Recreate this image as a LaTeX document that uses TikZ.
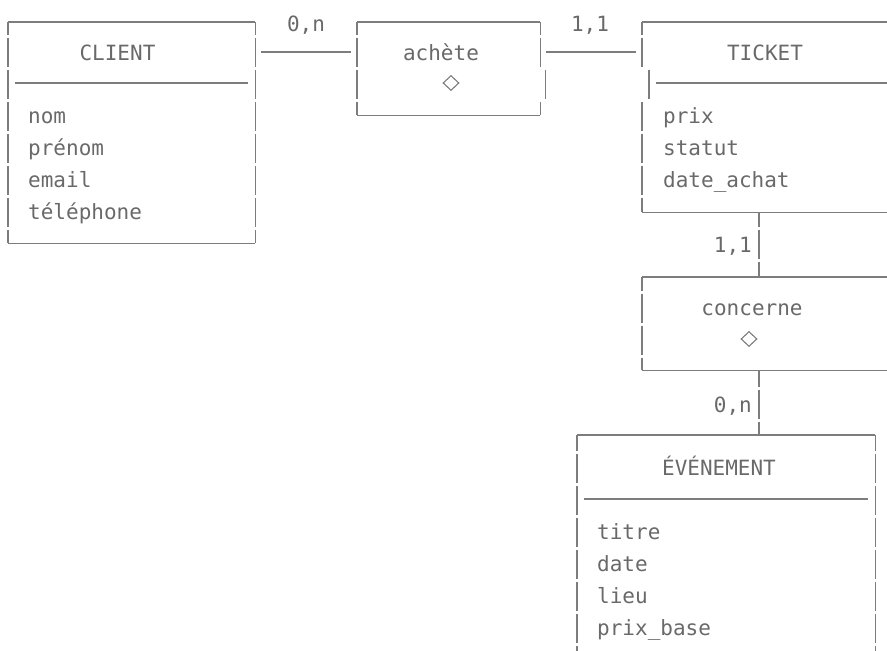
\documentclass[tikz,border=0pt]{standalone}
\usepackage{fontspec}
\newfontfamily\erfont{DejaVu Sans Mono}
\usetikzlibrary{shapes.geometric}
\definecolor{linegray}{RGB}{125,125,125}
\definecolor{textgray}{RGB}{105,105,105}
\begin{document}
\begin{tikzpicture}[x=1pt,y=-1pt]
	\tikzset{
		box/.style={rectangle, inner sep=0pt, anchor=north west},
		edge/.style={draw=linegray, line width=1.2pt},
		vbar/.style={edge, dash pattern=on 29.5pt off 2.5pt, dash phase=#1},
		vbar/.default=16.5pt,
		txt/.style={font=\erfont\fontsize{21}{25}\selectfont, text=textgray, inner sep=0pt, anchor=base},
		attr/.style={txt, anchor=base west},
		card/.style={txt, anchor=base east},
		rel/.style={diamond, draw=linegray, line width=1.1pt, inner sep=0pt, minimum width=16pt, minimum height=15pt}
	}
	\useasboundingbox (0,0) rectangle (887,651);
	\clip (0,0) rectangle (887,651);
	
	% frames of the entities and associations
	\node[box, minimum width=247pt, minimum height=221pt] (client) at (8,22) {};
	\node[box, minimum width=183pt, minimum height=93pt] (achete) at (357,22) {};
	\node[box, minimum width=260pt, minimum height=190pt] (ticket) at (642,22) {};
	\node[box, minimum width=260pt, minimum height=93pt] (concerne) at (642,277) {};
	\node[box, minimum width=298pt, minimum height=240pt] (evenement) at (577,435) {};
	
	\foreach \b in {client,achete,ticket,concerne,evenement}{
		\draw[edge] (\b.north west) -- (\b.north east);
		\draw[edge] (\b.south west) -- (\b.south east);
	}
	\foreach \b/\p in {client/16.5pt,concerne/15.5pt,evenement/13.5pt}{
		\draw[vbar=\p] (\b.north west) -- (\b.south west);
		\draw[vbar=\p] (\b.north east) -- (\b.south east);
	}
	\draw[vbar] (achete.north west) -- (achete.south west);
	\draw[vbar] (achete.north east) -- ([yshift=-46pt]achete.north east);
	\draw[edge] ([xshift=5pt,yshift=-47.5pt]achete.north east) -- ([xshift=5pt,yshift=-77pt]achete.north east);
	\draw[vbar=0pt] ([yshift=-79.5pt]achete.north east) -- (achete.south east);
	\draw[vbar] (ticket.north west) -- ([yshift=-46pt]ticket.north west);
	\draw[edge] ([xshift=7pt,yshift=-47.5pt]ticket.north west) -- ([xshift=7pt,yshift=-77pt]ticket.north west);
	\draw[vbar=0pt] ([yshift=-79.5pt]ticket.north west) -- (ticket.south west);
	
	% separators under the entity names
	\draw[edge] ([xshift=7pt,yshift=-61pt]client.north west) -- ([xshift=-7pt,yshift=-61pt]client.north east);
	\draw[edge] ([xshift=14pt,yshift=-61pt]ticket.north west) -- ([yshift=-61pt]ticket.north east);
	\draw[edge] ([xshift=7pt,yshift=-64pt]evenement.north west) -- ([xshift=-7pt,yshift=-64pt]evenement.north east);
	
	% names
	\node[txt] (clientname) at (117.5,60) {CLIENT};
	\node[txt] (achetename) at (441,60) {achète};
	\node[txt] (ticketname) at (765,60) {TICKET};
	\node[txt] (concernename) at (752,315) {concerne};
	\node[txt] (evenementname) at (719,475) {ÉVÉNEMENT};
	\node[rel] (acheteicon) at (451,83) {};
	\node[rel] (concerneicon) at (749,339) {};
	
	% attributes
	\foreach \a [count=\i from 0] in {nom,prénom,email,téléphone}
		\node[attr] (cl\i) at (28,{123+32*\i}) {\a};
	\foreach \a [count=\i from 0] in {prix,statut,date\_achat}
		\node[attr] (tk\i) at (663,{123+32*\i}) {\a};
	\foreach \a [count=\i from 0] in {titre,date,lieu,prix\_base}
		\node[attr] (ev\i) at (597,{539+32*\i}) {\a};
	
	% links with cardinalities
	\draw[edge] ([xshift=6pt,yshift=-30pt]client.north east) -- ([xshift=-6pt,yshift=-30pt]achete.north west);
	\draw[edge] ([xshift=6pt,yshift=-30pt]achete.north east) -- ([xshift=-6pt,yshift=-30pt]ticket.north west);
	\draw[vbar=14.5pt] ([xshift=117pt]ticket.south west) -- ([xshift=117pt]concerne.north west);
	\draw[vbar=12.5pt] ([xshift=117pt]concerne.south west) -- ([xshift=182pt]evenement.north west);
	\node[txt] (card1) at (306,31) {0,n};
	\node[txt] (card2) at (590,31) {1,1};
	\node[card] (card3) at (752,252) {1,1};
	\node[card] (card4) at (752,412) {0,n};
\end{tikzpicture}
\end{document}
